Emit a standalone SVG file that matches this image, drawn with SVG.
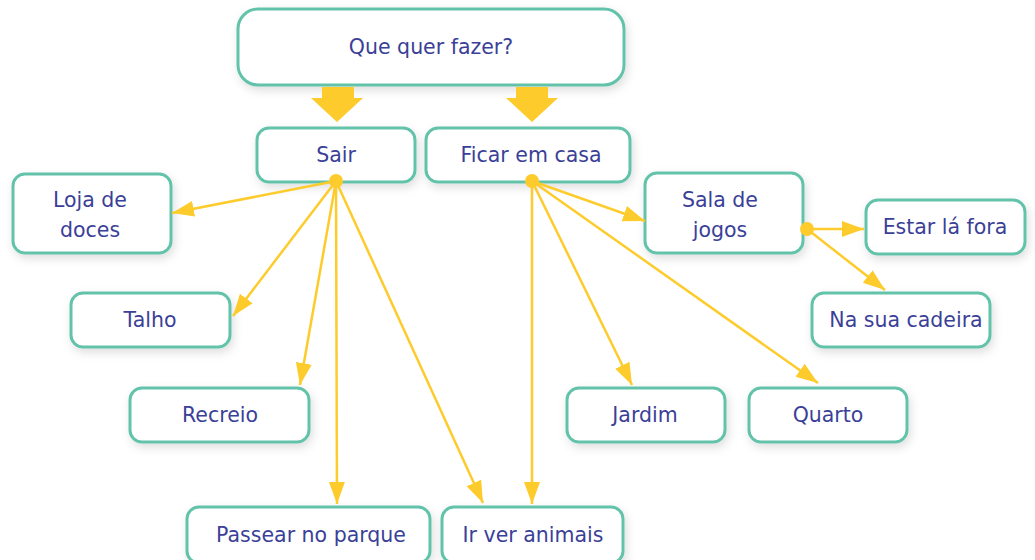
<svg xmlns="http://www.w3.org/2000/svg" width="1035" height="560" viewBox="0 0 1035 560">
<defs>
<filter id="sh" x="-30%" y="-40%" width="160%" height="180%">
<feDropShadow dx="2" dy="4" stdDeviation="5" flood-color="#000" flood-opacity="0.13"/>
</filter>
<marker id="ah" markerUnits="userSpaceOnUse" markerWidth="24" markerHeight="18" refX="22" refY="8" orient="auto" viewBox="0 0 24 18">
<path d="M0,0 L22,8 L0,16 z" fill="#FDCC2C"/>
</marker>
<style>
.box{fill:#fff;stroke:#62C3AA;stroke-width:3}
.t{font-family:"DejaVu Sans","Liberation Sans",sans-serif;font-size:20.5px;fill:#3B3F98;text-anchor:middle;dominant-baseline:central}
.c{stroke:#FDCC2C;stroke-width:2.5;fill:none;marker-end:url(#ah)}
.dot{fill:#FDCC2C}
.big{fill:#FDCC2C}
</style>
</defs>
<rect width="1035" height="560" fill="#fff"/>

<g id="q"><rect class="box" filter="url(#sh)" x="238" y="9" width="386" height="76" rx="20"/><text class="t" x="431" y="47">Que quer fazer?</text></g>
<g id="sair"><rect class="box" filter="url(#sh)" x="257" y="128" width="158" height="54" rx="12"/><text class="t" x="336" y="155">Sair</text></g>
<g id="ficar"><rect class="box" filter="url(#sh)" x="426" y="128" width="204" height="54" rx="12"/><text class="t" x="531" y="155">Ficar em casa</text></g>
<g id="loja"><rect class="box" filter="url(#sh)" x="13" y="174" width="158" height="79" rx="12"/><text class="t" x="90" y="200">Loja de</text><text class="t" x="90" y="230">doces</text></g>
<g id="talho"><rect class="box" filter="url(#sh)" x="71" y="293" width="159" height="54" rx="12"/><text class="t" x="150" y="320">Talho</text></g>
<g id="recreio"><rect class="box" filter="url(#sh)" x="130" y="388" width="179" height="54" rx="12"/><text class="t" x="220" y="415">Recreio</text></g>
<g id="passear"><rect class="box" filter="url(#sh)" x="187" y="507" width="243" height="56" rx="12"/><text class="t" x="311" y="535">Passear no parque</text></g>
<g id="animais"><rect class="box" filter="url(#sh)" x="442" y="507" width="181" height="56" rx="12"/><text class="t" x="533" y="535">Ir ver animais</text></g>
<g id="jardim"><rect class="box" filter="url(#sh)" x="567" y="388" width="158" height="54" rx="12"/><text class="t" x="645" y="415">Jardim</text></g>
<g id="quarto"><rect class="box" filter="url(#sh)" x="749" y="388" width="158" height="54" rx="12"/><text class="t" x="828" y="415">Quarto</text></g>
<g id="sala"><rect class="box" filter="url(#sh)" x="645" y="173" width="158" height="80" rx="12"/><text class="t" x="720" y="200">Sala de</text><text class="t" x="720" y="230">jogos</text></g>
<g id="estar"><rect class="box" filter="url(#sh)" x="866" y="200" width="159" height="54" rx="12"/><text class="t" x="945" y="227">Estar lá fora</text></g>
<g id="cadeira"><rect class="box" filter="url(#sh)" x="812" y="293" width="178" height="54" rx="12"/><text class="t" x="906" y="320">Na sua cadeira</text></g>

<g id="connectors">
<path class="big" d="M322,87 H354 V98 H363 L337,122 L311,98 H322 Z"/>
<path class="big" d="M516,87 H548 V98 H558 L532,122 L506,98 H516 Z"/>
<line class="c" x1="336" y1="181" x2="172" y2="213"/>
<line class="c" x1="336" y1="181" x2="233" y2="316"/>
<line class="c" x1="336" y1="181" x2="300" y2="385"/>
<line class="c" x1="336" y1="181" x2="337" y2="504"/>
<line class="c" x1="336" y1="181" x2="483" y2="503"/>
<line class="c" x1="532" y1="181" x2="532" y2="504"/>
<line class="c" x1="532" y1="181" x2="632" y2="385"/>
<line class="c" x1="532" y1="181" x2="818" y2="383"/>
<line class="c" x1="532" y1="181" x2="645" y2="221"/>
<line class="c" x1="807" y1="229" x2="864" y2="229"/>
<line class="c" x1="807" y1="229" x2="885" y2="290"/>
<circle class="dot" cx="336" cy="181" r="7"/>
<circle class="dot" cx="532" cy="181" r="7"/>
<circle class="dot" cx="807" cy="229" r="7"/>
</g>
</svg>
